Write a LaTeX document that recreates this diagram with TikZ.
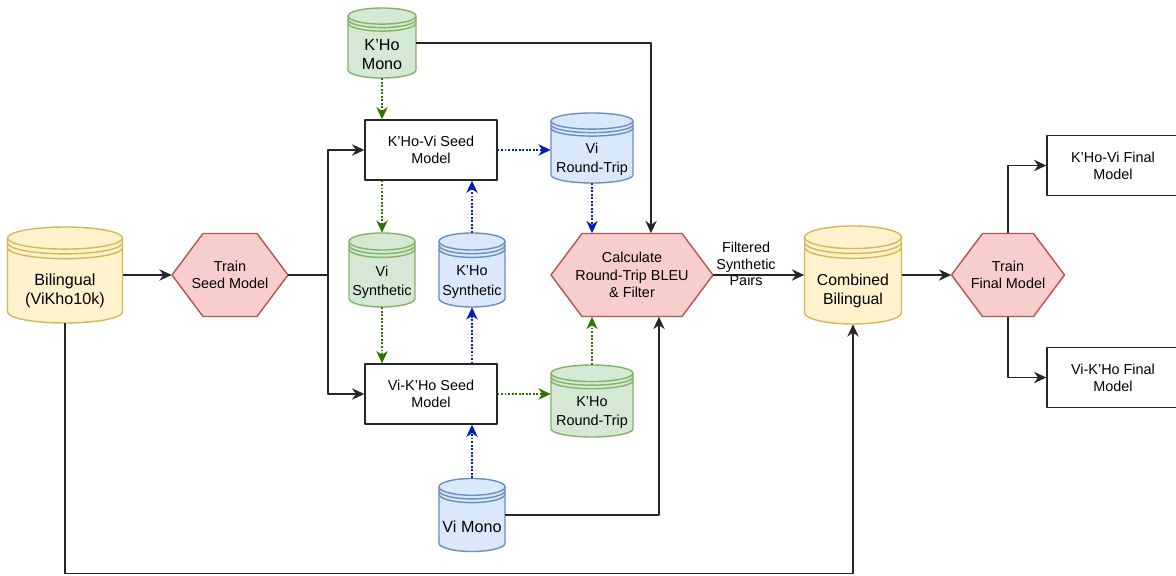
\documentclass[tikz,border=0pt]{standalone}
\usepackage{fontspec}
\setmainfont{Liberation Sans}
\usetikzlibrary{arrows.meta}

\definecolor{yelfill}{HTML}{FFF2CC}
\definecolor{yelline}{HTML}{D6B656}
\definecolor{grnfill}{HTML}{D5E8D4}
\definecolor{grnline}{HTML}{82B366}
\definecolor{blufill}{HTML}{DAE8FC}
\definecolor{bluline}{HTML}{6C8EBF}
\definecolor{redfill}{HTML}{F8CECC}
\definecolor{redline}{HTML}{B85450}
\definecolor{grnarrow}{HTML}{2D7600}
\definecolor{bluarrow}{HTML}{001DBC}

\tikzset{
  proc/.style={draw=black!85,line width=0.8pt,fill=white,minimum width=2.64cm,minimum height=1.2cm,align=center,font=\fontsize{8.2}{9.8}\selectfont},
  train/.style={fill=redfill,draw=redline,line width=0.8pt},
  yelstore/.style={fill=yelfill,draw=yelline},
  grnstore/.style={fill=grnfill,draw=grnline},
  blustore/.style={fill=blufill,draw=bluline},
  flow/.style={->,draw=black!85,line width=0.75pt},
  grnflow/.style={->,draw=grnarrow,line width=0.75pt,dash pattern=on 1pt off 1pt},
  bluflow/.style={->,draw=bluarrow,line width=0.75pt,dash pattern=on 1pt off 1pt}
}

% data store: name, centre, width, height, colours, font size, text
\newcommand{\datastore}[7]{%
  \pgfmathsetmacro\sw{#3/2}\pgfmathsetmacro\sh{#4/2}%
  \pgfmathsetmacro\sry{0.115*#4}\pgfmathsetmacro\sda{0.05*#4}%
  \begin{scope}[shift={#2},#5,line width=0.8pt]
    \filldraw (-\sw,\sh-\sry) -- (-\sw,-\sh+\sry) arc[start angle=180,end angle=360,x radius=\sw,y radius=\sry]
      -- (\sw,\sh-\sry) arc[start angle=0,end angle=180,x radius=\sw,y radius=\sry] -- cycle;
    \foreach \d in {0,\sda,2*\sda}
      \draw (-\sw,\sh-\sry-\d) arc[start angle=180,end angle=360,x radius=\sw,y radius=\sry];
  \end{scope}
  \node[minimum width=#3cm,minimum height=#4cm,inner sep=0pt] (#1) at #2 {};
  \node[align=center,font=\fontsize{#6}{11}\selectfont] (#1-txt) at ([yshift={-0.165*#4*28.45pt}]#1.center) {#7};
}

% training step (hexagon): name, centre, width, text
\newcommand{\trainstep}[4]{%
  \pgfmathsetmacro\hw{#3/2}%
  \begin{scope}[shift={#2}]
    \filldraw[train] (-\hw,0) -- (-\hw+0.62,0.83) -- (\hw-0.62,0.83) -- (\hw,0)
      -- (\hw-0.62,-0.83) -- (-\hw+0.62,-0.83) -- cycle;
  \end{scope}
  \node[minimum width=#3cm,minimum height=1.66cm,inner sep=0pt,align=center,font=\fontsize{8.2}{9.8}\selectfont] (#1) at #2 {#4};
}

\begin{document}
\begin{tikzpicture}[>={Stealth[length=7pt,width=6.5pt]},line join=round]
\useasboundingbox (0,0) rectangle (23.52,11.52);

% sources and seed training
\datastore{bili}{(1.30,6.02)}{2.30}{1.92}{yelstore}{9.2}{Bilingual\\(ViKho10k)}
\trainstep{trseed}{(4.60,6.02)}{2.32}{Train\\Seed Model}
\node[proc] (kvseed) at (8.62,8.52) {K'Ho-Vi Seed\\Model};
\node[proc] (vkseed) at (8.62,3.64) {Vi-K'Ho Seed\\Model};
\datastore{kmono}{(7.64,10.66)}{1.36}{1.40}{grnstore}{9.2}{K'Ho\\Mono}
\datastore{vimono}{(9.44,1.22)}{1.32}{1.46}{blustore}{9.2}{Vi Mono}

% synthetic and round-trip data
\datastore{visyn}{(7.64,6.12)}{1.32}{1.48}{grnstore}{8.2}{Vi\\Synthetic}
\datastore{ksyn}{(9.44,6.12)}{1.32}{1.48}{blustore}{8.2}{K'Ho\\Synthetic}
\datastore{virt}{(11.84,8.56)}{1.64}{1.40}{blustore}{8.2}{Vi\\Round-Trip}
\datastore{krt}{(11.84,3.50)}{1.64}{1.44}{grnstore}{8.2}{K'Ho\\Round-Trip}
\trainstep{calc}{(12.64,6.02)}{3.24}{Calculate\\Round-Trip BLEU\\\& Filter}

% final training
\datastore{comb}{(17.06,6.02)}{1.94}{1.96}{yelstore}{9}{Combined\\Bilingual}
\trainstep{trfinal}{(20.16,6.02)}{2.26}{Train\\Final Model}
\node[proc] (kvfinal) at (22.26,8.21) {K'Ho-Vi Final\\Model};
\node[proc] (vkfinal) at (22.26,3.97) {Vi-K'Ho Final\\Model};

\coordinate (split) at (6.56,6.02);
\coordinate (bottom) at (1.30,0.05);

% connectors
\draw[flow] (bili) -- (trseed);
\draw[flow,-] (trseed.east) -- (split);
\draw[flow] (split) |- (kvseed.west);
\draw[flow] (split) |- (vkseed.west);
\draw[grnflow] (kmono.south) -- (kmono.south |- kvseed.north);
\draw[bluflow] (kvseed.east) -- (kvseed.east -| virt.west);
\draw[bluflow] (virt.south) -- (virt.south |- calc.north);
\draw[grnflow] (kvseed.south -| visyn) -- (visyn.north);
\draw[grnflow] (visyn.south) -- (visyn.south |- vkseed.north);
\draw[bluflow] (ksyn.north) -- (ksyn.north |- kvseed.south);
\draw[bluflow] (vkseed.north -| ksyn) -- (ksyn.south);
\draw[bluflow] (vimono.north) -- (vimono.north |- vkseed.south);
\draw[grnflow] (vkseed.east) -- (vkseed.east -| krt.west);
\draw[grnflow] (krt.north) -- (krt.north |- calc.south);
\draw[flow] (kmono.east) -| ([xshift=0.38cm]calc.north);
\draw[flow] (vimono.east) -| ([xshift=0.54cm]calc.south);
\draw[flow] (calc.east) -- node[pos=0.36,yshift=0.22cm,align=center,font=\fontsize{8.2}{9.4}\selectfont] (pairs) {Filtered\\Synthetic\\Pairs} (comb.west);
\draw[flow] (bili.south) -- (bottom) -| (comb.south);
\draw[flow] (comb) -- (trfinal);
\draw[flow] (trfinal.north) |- (kvfinal.west);
\draw[flow] (trfinal.south) |- (vkfinal.west);
\end{tikzpicture}
\end{document}
